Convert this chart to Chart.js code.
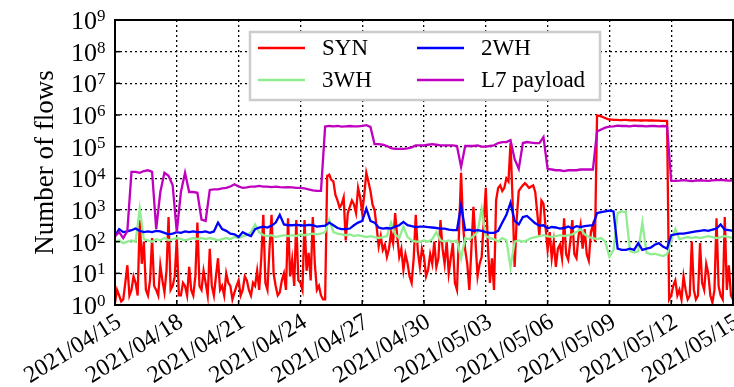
<!DOCTYPE html>
<html>
<head>
<meta charset="utf-8">
<script src="https://cdn.jsdelivr.net/npm/chart.js@4.4.0/dist/chart.umd.min.js"></script>
<style>
    body { margin: 0; background: #ffffff; }
</style>
</head>
<body>
<canvas id="grafico-flujos" width="734" height="387"></canvas>
<script>
// dias desde 2021/04/15 (0 .. 30); SYN cada 0.1 dias, el resto cada 0.2 dias
var pasoSyn = 0.1;
var paso = 0.2;
var etiquetasX = ['2021/04/15', '2021/04/18', '2021/04/21', '2021/04/24', '2021/04/27', '2021/04/30',
    '2021/05/03', '2021/05/06', '2021/05/09', '2021/05/12', '2021/05/15'];
var exponentes = [0, 1, 2, 3, 4, 5, 6, 7, 8, 9];

var syn = [
    1.2, 3, 2, 1.3, 1.5, 5, 18, 2, 3, 8,
    5, 2, 480, 20, 100, 3, 2, 6, 130, 4,
    3, 2, 18, 6, 2.5, 12, 600, 3, 4, 8,
    130, 2, 2, 5, 4, 2, 16, 3, 2, 8,
    400, 4, 3, 12, 5, 2, 60, 4, 2, 8,
    30, 3, 4, 2, 10, 5, 4, 1.5, 2.5, 4,
    6, 2, 3, 8, 6, 3, 2, 5, 4, 12,
    3, 30, 700, 5, 3, 60, 700, 10, 4, 2,
    2.5, 6, 10, 3, 550, 8, 27, 4, 480, 6,
    5, 3, 480, 12, 44, 6, 600, 20, 3, 4,
    2, 1.5, 1.5, 12000, 13000, 9000, 8000, 3000, 2000, 1200,
    1500, 2500, 110, 800, 1250, 2000, 1500, 800, 5000, 2500,
    800, 3000, 15000, 8000, 4000, 1500, 1000, 300, 70, 150,
    55, 80, 33, 60, 190, 90, 800, 150, 33, 60,
    13, 40, 21, 8, 5, 30, 700, 50, 16, 60,
    33, 8, 13, 40, 20, 100, 16, 30, 480, 60,
    20, 100, 10, 30, 90, 5, 3, 200, 15000, 300,
    55, 20, 3, 60, 1250, 100, 8, 20, 33, 400,
    5000, 80, 5, 30, 3, 2000, 5000, 6000, 4000, 5000,
    10000, 8000, 130000, 2000, 16, 500, 4000, 5000, 6000, 7000,
    6000, 5000, 5500, 6000, 3700, 800, 150, 2000, 1600, 300,
    55, 200, 30, 100, 16, 60, 80, 30, 550, 40,
    27, 100, 480, 40, 30, 150, 340, 60, 250, 40,
    25, 200, 340, 100, 950000, 950000, 900000, 850000, 800000, 750000,
    720000, 710000, 700000, 700000, 700000, 690000, 690000, 700000, 700000, 690000,
    680000, 680000, 690000, 680000, 680000, 670000, 670000, 680000, 680000, 670000,
    670000, 670000, 660000, 660000, 660000, 650000, 650000, 650000, 650000, 1.5,
    2, 4, 6, 2, 3, 1.5, 8, 3, 1.5, 2,
    100, 3, 1.5, 2, 90, 5, 3, 20, 10, 2,
    1.2, 3, 550, 4, 2, 1.5, 600, 3, 18, 2,
    1.5
];
var tresWH = [
    100, 110, 90, 100, 110, 100, 1100, 120, 110, 100,
    120, 110, 130, 110, 120, 130, 120, 110, 120, 130,
    120, 130, 120, 130, 120, 110, 120, 130, 120, 140,
    130, 150, 160, 200, 350, 200, 160, 150, 160, 140,
    150, 160, 150, 160, 150, 170, 160, 170, 180, 170,
    180, 200, 500, 200, 180, 170, 160, 170, 150, 160,
    150, 140, 150, 140, 130, 140, 150, 400, 170, 130,
    300, 140, 110, 100, 100, 110, 100, 120, 200, 110,
    100, 110, 100, 110, 30, 130, 120, 150, 200, 1100,
    150, 130, 120, 100, 130, 110, 16, 100, 110, 100,
    110, 130, 140, 150, 160, 150, 140, 150, 160, 150,
    160, 170, 200, 250, 170, 140, 130, 120, 130, 100,
    33, 55, 800, 900, 850, 50, 45, 50, 400, 45,
    40, 42, 38, 35, 40, 110, 250, 120, 130, 140,
    130, 140, 130, 140, 150, 140, 130, 140, 150, 140,
    130
];
var dosWH = [
    150, 250, 200, 210, 230, 260, 220, 200, 210, 200,
    220, 210, 190, 170, 180, 200, 190, 210, 200, 210,
    200, 200, 210, 190, 210, 400, 250, 220, 180, 170,
    140, 200, 170, 150, 250, 280, 300, 280, 320, 400,
    700, 350, 330, 330, 340, 330, 320, 340, 330, 300,
    310, 320, 400, 330, 270, 250, 250, 260, 330, 400,
    450, 1100, 450, 400, 280, 260, 270, 260, 300, 330,
    420, 330, 310, 290, 300, 300, 290, 280, 270, 260,
    260, 240, 230, 230, 1400, 230, 240, 220, 230, 220,
    200, 190, 190, 220, 400, 700, 1700, 450, 350, 600,
    650, 500, 380, 320, 330, 260, 290, 280, 260, 270,
    300, 260, 310, 290, 310, 320, 330, 800, 850, 900,
    950, 900, 60, 55, 55, 60, 55, 90, 55, 60,
    65, 80, 90, 70, 60, 160, 170, 180, 180, 190,
    200, 210, 220, 230, 220, 240, 260, 350, 240, 230,
    220
];
var l7 = [
    150, 200, 130, 220, 16000, 16000, 15000, 17000, 18000, 16000,
    250, 3700, 15000, 12000, 6000, 200, 3700, 15000, 3700, 3700,
    3500, 500, 450, 4300, 4500, 4500, 4800, 5000, 5500, 6500,
    5500, 5000, 5200, 5500, 5500, 5800, 5500, 5500, 5300, 5500,
    5300, 5200, 5300, 5200, 5000, 5000, 4800, 4500, 4200, 4000,
    4000, 430000, 450000, 440000, 450000, 430000, 440000, 450000, 440000, 440000,
    450000, 480000, 420000, 120000, 120000, 115000, 105000, 90000, 85000, 85000,
    85000, 88000, 95000, 110000, 110000, 110000, 115000, 120000, 115000, 110000,
    110000, 110000, 110000, 105000, 23000, 105000, 105000, 105000, 110000, 100000,
    100000, 105000, 110000, 130000, 140000, 140000, 160000, 40000, 20000, 130000,
    140000, 135000, 130000, 130000, 200000, 20000, 19000, 18000, 18000, 17000,
    18000, 18000, 18000, 19000, 19000, 19000, 19000, 300000, 350000, 400000,
    430000, 440000, 460000, 450000, 450000, 440000, 460000, 450000, 450000, 440000,
    450000, 450000, 440000, 450000, 440000, 8500, 8300, 8500, 8800, 8500,
    8200, 8500, 8700, 8500, 8300, 8600, 8800, 9000, 8700, 8500,
    8600
];

function puntos(valores, p) {
    var lista = [];
    for (var i = 0; i < valores.length; i++) {
        lista.push({ x: i * p, y: valores[i] });
    }
    return lista;
}

var fuente = '"Liberation Serif", "DejaVu Serif", serif';

// ejes con etiquetas tipo 10^n, fechas inclinadas, marco y leyenda dentro del area
var decoracion = {
    id: 'decoracion',
    afterDraw: function (chart) {
        var ctx = chart.ctx;
        var area = chart.chartArea;
        var ejeX = chart.scales.x;
        var ejeY = chart.scales.y;
        ctx.save();
        ctx.setLineDash([]);
        ctx.strokeStyle = '#000000';
        ctx.fillStyle = '#000000';

        // marcas hacia adentro
        ctx.lineWidth = 1.5;
        exponentes.forEach(function (e) {
            var py = ejeY.getPixelForValue(Math.pow(10, e));
            ctx.beginPath();
            ctx.moveTo(area.left, py);
            ctx.lineTo(area.left + 5, py);
            ctx.stroke();
        });
        etiquetasX.forEach(function (t, i) {
            var px = ejeX.getPixelForValue(i * 3);
            ctx.beginPath();
            ctx.moveTo(px, area.bottom);
            ctx.lineTo(px, area.bottom - 5);
            ctx.stroke();
        });

        // marco
        ctx.lineWidth = 2;
        ctx.strokeRect(area.left, area.top, area.right - area.left, area.bottom - area.top);

        // etiquetas del eje y
        exponentes.forEach(function (e) {
            var py = ejeY.getPixelForValue(Math.pow(10, e));
            ctx.font = '26px ' + fuente;
            ctx.textAlign = 'right';
            ctx.textBaseline = 'alphabetic';
            ctx.fillText('10', area.left - 18, py + 9);
            ctx.font = '17px ' + fuente;
            ctx.textAlign = 'left';
            ctx.fillText(String(e), area.left - 18, py + 1);
        });

        // fechas
        ctx.font = '24px ' + fuente;
        ctx.textAlign = 'right';
        ctx.textBaseline = 'top';
        etiquetasX.forEach(function (t, i) {
            var px = ejeX.getPixelForValue(i * 3);
            ctx.save();
            ctx.translate(px - 2, area.bottom + 5);
            ctx.rotate(-32 * Math.PI / 180);
            ctx.fillText(t, 0, 0);
            ctx.restore();
        });

        // titulo del eje y
        ctx.save();
        ctx.font = '27px ' + fuente;
        ctx.textAlign = 'center';
        ctx.textBaseline = 'middle';
        ctx.translate(46, (area.top + area.bottom) / 2);
        ctx.rotate(-Math.PI / 2);
        ctx.fillText('Number of flows', 0, 0);
        ctx.restore();

        // leyenda (dos columnas)
        var caja = { x: 250, y: 32, w: 350, h: 68 };
        ctx.fillStyle = '#ffffff';
        ctx.fillRect(caja.x, caja.y, caja.w, caja.h);
        ctx.strokeStyle = '#cccccc';
        ctx.lineWidth = 2.5;
        ctx.strokeRect(caja.x, caja.y, caja.w, caja.h);
        var orden = [3, 2, 1, 0];
        ctx.font = '23px ' + fuente;
        ctx.textAlign = 'left';
        ctx.textBaseline = 'middle';
        orden.forEach(function (k, n) {
            var ds = chart.data.datasets[k];
            var col = Math.floor(n / 2);
            var fila = n % 2;
            var x0 = caja.x + 8 + col * 159;
            var y0 = caja.y + 16 + fila * 32;
            ctx.strokeStyle = ds.borderColor;
            ctx.lineWidth = 2.5;
            ctx.beginPath();
            ctx.moveTo(x0, y0);
            ctx.lineTo(x0 + 47, y0);
            ctx.stroke();
            ctx.fillStyle = '#000000';
            ctx.fillText(ds.label, x0 + 64, y0 + 1);
        });
        ctx.restore();
    }
};

var ctx = document.getElementById('grafico-flujos');
var myChart = new Chart(ctx, {
    type: 'line',
    data: {
        datasets: [{
            label: 'L7 payload',
            data: puntos(l7, paso),
            borderColor: '#bf00bf',
            borderWidth: 2.3
        }, {
            label: '2WH',
            data: puntos(dosWH, paso),
            borderColor: '#0000ff',
            borderWidth: 2.3
        }, {
            label: '3WH',
            data: puntos(tresWH, paso),
            borderColor: '#90ee90',
            borderWidth: 2.3
        }, {
            label: 'SYN',
            data: puntos(syn, pasoSyn),
            borderColor: '#ff0000',
            borderWidth: 2.3
        }]
    },
    options: {
        responsive: false,
        animation: false,
        events: [],
        layout: {
            padding: { left: 115, top: 20, right: 1, bottom: 82 }
        },
        elements: {
            point: { radius: 0 },
            line: { tension: 0 }
        },
        plugins: {
            legend: { display: false },
            tooltip: { enabled: false }
        },
        scales: {
            x: {
                type: 'linear',
                min: 0,
                max: 30,
                ticks: { stepSize: 3, display: false },
                grid: { color: '#000000', lineWidth: 1.3, drawTicks: false },
                border: { display: false, dash: [2, 3] }
            },
            y: {
                type: 'logarithmic',
                min: 1,
                max: 1e9,
                afterBuildTicks: function (scale) {
                    scale.ticks = exponentes.map(function (e) {
                        return { value: Math.pow(10, e) };
                    });
                },
                ticks: { display: false },
                grid: { color: '#000000', lineWidth: 1.3, drawTicks: false },
                border: { display: false, dash: [2, 3] }
            }
        }
    },
    plugins: [decoracion]
});
</script>
</body>
</html>
